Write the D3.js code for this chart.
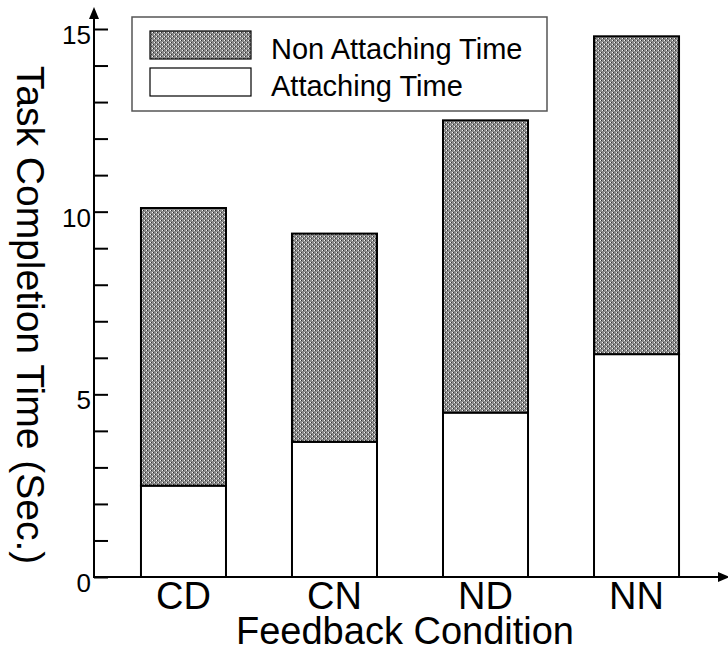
<!DOCTYPE html>
<html>
<head>
<meta charset="utf-8">
<script src="https://cdn.jsdelivr.net/npm/d3@7"></script>
<style>
  html, body { margin: 0; padding: 0; background: #fff; }
  svg { display: block; font-family: "Liberation Sans", Arial, sans-serif; }
</style>
</head>
<body>
<svg id="chart" width="728" height="652"></svg>
<script>
// values (seconds)
const categories   = ["CD", "CN", "ND", "NN"]
const attaching    = [2.5, 3.7, 4.5, 6.1]
const nonAttaching = [7.6, 5.7, 8.0, 8.7]
const seriesKeys   = ["attaching", "nonAttaching"]
const seriesNames  = { nonAttaching: "Non Attaching Time", attaching: "Attaching Time" }
const legendOrder  = ["nonAttaching", "attaching"]
const yTicks       = d3.range(0, 16)
const yTickLabels  = [0, 5, 10, 15]

const svg = d3.select("#chart")
const W = 728, H = 652
const originX = 94, originY = 577

// dotted gray fill, like the old xfig/gnuplot hatch
const defs = svg.append("defs")
const pat = defs.append("pattern")
  .attr("id", "dots")
  .attr("patternUnits", "userSpaceOnUse")
  .attr("width", 4).attr("height", 4)
pat.append("rect").attr("width", 4).attr("height", 4).attr("fill", "#8a8a8a")
pat.append("rect").attr("x", 0).attr("y", 0).attr("width", 1).attr("height", 1).attr("fill", "#f4f4f4")
pat.append("rect").attr("x", 2).attr("y", 2).attr("width", 1).attr("height", 1).attr("fill", "#f4f4f4")
pat.append("rect").attr("x", 1).attr("y", 0).attr("width", 1).attr("height", 1).attr("fill", "#333")
pat.append("rect").attr("x", 3).attr("y", 2).attr("width", 1).attr("height", 1).attr("fill", "#333")

const fills = { attaching: "#fff", nonAttaching: "url(#dots)" }

const x = d3.scaleBand()
  .domain(categories)
  .range([originX, 726])
  .paddingInner(0.437)
  .paddingOuter(0.311)

const y = d3.scaleLinear().domain([0, 15]).range([originY, 29])

const table = categories.map((c, i) => ({ cat: c, attaching: attaching[i], nonAttaching: nonAttaching[i] }))
const stacked = d3.stack().keys(seriesKeys)(table)

// ── Bars ─────────────────────────────────────────
const layer = svg.append("g").selectAll("g.layer")
  .data(stacked).join("g")
  .attr("class", "layer")
  .attr("fill", d => fills[d.key])

layer.selectAll("rect")
  .data(d => d).join("rect")
  .attr("x", d => x(d.data.cat))
  .attr("width", x.bandwidth())
  .attr("y", d => y(d[1]))
  .attr("height", d => y(d[0]) - y(d[1]))
  .attr("stroke", "#000")
  .attr("stroke-width", 2)

// ── Y axis ───────────────────────────────────────
const yAxis = svg.append("g")
  .attr("transform", `translate(${originX},0)`)
  .call(d3.axisLeft(y)
    .tickValues(yTicks)
    .tickSize(-14)
    .tickFormat(d => yTickLabels.includes(d) ? d : ""))
  .attr("font-family", null)
  .attr("font-size", null)
yAxis.select(".domain").remove()
yAxis.selectAll(".tick line").attr("stroke", "#000").attr("stroke-width", 2)
yAxis.selectAll(".tick text")
  .attr("x", -3).attr("dy", null).attr("y", 14.5)
  .attr("font-size", 26).attr("fill", "#000")

svg.append("line")
  .attr("x1", originX).attr("x2", originX)
  .attr("y1", originY + 1).attr("y2", 16)
  .attr("stroke", "#000").attr("stroke-width", 2)
svg.append("path")
  .attr("d", `M${originX},7 L${originX - 5},19 L${originX + 5},19 Z`)
  .attr("fill", "#000")

// ── X axis ───────────────────────────────────────
const xAxis = svg.append("g")
  .attr("transform", `translate(0,${originY})`)
  .call(d3.axisBottom(x).tickSize(0))
  .attr("font-family", null)
  .attr("font-size", null)
xAxis.select(".domain").remove()
xAxis.selectAll(".tick text")
  .attr("y", 32).attr("dy", null)
  .attr("font-size", 38).attr("fill", "#000")

svg.append("line")
  .attr("x1", originX - 1).attr("x2", W - 8)
  .attr("y1", originY).attr("y2", originY)
  .attr("stroke", "#000").attr("stroke-width", 2)
svg.append("path")
  .attr("d", `M${W + 2},${originY} L${W - 10},${originY - 5} L${W - 10},${originY + 5} Z`)
  .attr("fill", "#000")

// ── Axis titles ──────────────────────────────────
svg.append("text")
  .attr("x", 405).attr("y", 644)
  .attr("text-anchor", "middle")
  .attr("font-size", 38)
  .text("Feedback Condition")

svg.append("text")
  .attr("transform", "translate(17,315) rotate(90)")
  .attr("text-anchor", "middle")
  .attr("font-size", 39)
  .text("Task Completion Time (Sec.)")

// ── Legend ───────────────────────────────────────
const legend = svg.append("g")
legend.append("rect")
  .attr("x", 132).attr("y", 17)
  .attr("width", 415).attr("height", 94)
  .attr("fill", "#fff")
  .attr("stroke", "#555").attr("stroke-width", 1.5)

const item = legend.selectAll("g.item")
  .data(legendOrder).join("g")
  .attr("class", "item")
  .attr("transform", (_, i) => `translate(0,${i * 37})`)
item.append("rect")
  .attr("x", 150).attr("y", 31)
  .attr("width", 101).attr("height", 28)
  .attr("fill", d => fills[d])
  .attr("stroke", "#000").attr("stroke-width", 1.2)
item.append("text")
  .attr("x", 271).attr("y", 59)
  .attr("font-size", 29)
  .text(d => seriesNames[d])
</script>
</body>
</html>
